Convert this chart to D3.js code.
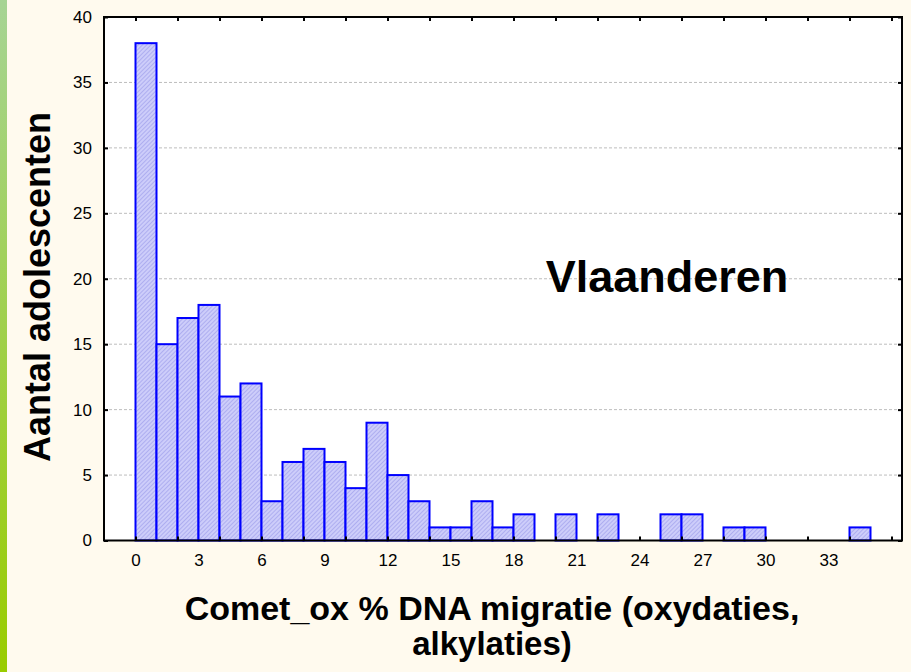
<!DOCTYPE html>
<html>
<head>
<meta charset="utf-8">
<script src="https://d3js.org/d3.v7.min.js"></script>
<style>
  html, body { margin: 0; padding: 0; background: #fffaee; }
  svg { display: block; }
  text { font-family: "Liberation Sans", Arial, sans-serif; }
</style>
</head>
<body>
<script>
// histogram of Comet_ox, one bin per unit
var binStart = [0,1,2,3,4,5,6,7,8,9,10,11,12,13,14,15,16,17,18,19,20,21,22,23,24,25,26,27,28,29,30,31,32,33,34,35];
var counts   = [38,15,17,18,11,12,3,6,7,6,4,9,5,3,1,1,3,1,2,0,2,0,2,0,0,2,2,0,1,1,0,0,0,0,1,0];
var xLabels  = [0,3,6,9,12,15,18,21,24,27,30,33];
var xTicks   = [0,2,4,6,8,10,12,14,16,18,20,22,24,26,28,30,32,34,36];
var yTicks   = [0,5,10,15,20,25,30,35,40];
var gridVals = [5,10,15,20,25,30,35];

var W = 911, H = 672;
var svg = d3.select("body").append("svg").attr("width", W).attr("height", H);

var defs = svg.append("defs");
var grad = defs.append("linearGradient").attr("id", "strip")
    .attr("x1", 0).attr("y1", 0).attr("x2", 0).attr("y2", 1);
grad.append("stop").attr("offset", "0%").attr("stop-color", "#a6d494");
grad.append("stop").attr("offset", "100%").attr("stop-color", "#99cc00");

var pat = defs.append("pattern").attr("id", "hatch")
    .attr("width", 3).attr("height", 3)
    .attr("patternUnits", "userSpaceOnUse")
    .attr("patternTransform", "rotate(45)");
pat.append("rect").attr("width", 3).attr("height", 3).attr("fill", "#cdcdfa");
pat.append("rect").attr("width", 1).attr("height", 3).attr("fill", "#aeaef0");

// background + green strip on the left
svg.append("rect").attr("width", W).attr("height", H).attr("fill", "#fffaee");
svg.append("rect").attr("width", 7).attr("height", H).attr("fill", "url(#strip)");

var x = d3.scaleLinear().domain([-1.5, 36.5]).range([104, 902]);
var y = d3.scaleLinear().domain([0, 40]).range([540.5, 17]);

// plot area
svg.append("rect")
    .attr("x", x(-1.5)).attr("y", y(40))
    .attr("width", x(36.5) - x(-1.5)).attr("height", y(0) - y(40))
    .attr("fill", "#fff");

// gridlines
svg.append("g").selectAll("line").data(gridVals).enter().append("line")
    .attr("x1", x(-1.5)).attr("x2", x(36.5))
    .attr("y1", function(d) { return y(d); }).attr("y2", function(d) { return y(d); })
    .attr("stroke", "#bdbdbd").attr("stroke-width", 1).attr("stroke-dasharray", "3,2");

// bars
svg.append("g").selectAll("rect").data(binStart).enter().append("rect")
    .filter(function(d, i) { return counts[i] > 0; })
    .attr("x", function(d) { return x(d); })
    .attr("width", function(d) { return x(d + 1) - x(d); })
    .attr("y", function(d) { return y(counts[binStart.indexOf(d)]); })
    .attr("height", function(d) { return y(0) - y(counts[binStart.indexOf(d)]); })
    .attr("fill", "url(#hatch)")
    .attr("stroke", "#0000ff").attr("stroke-width", 2);

// ticks (inward) on all four sides
function tickAxis(axis, tx, ty) {
  var g = svg.append("g").attr("transform", "translate(" + tx + "," + ty + ")").call(axis);
  g.select(".domain").remove();
  g.selectAll("line").attr("stroke", "#000").attr("stroke-width", 2);
  g.selectAll("text").remove();
  return g;
}
tickAxis(d3.axisTop(x).tickValues(xTicks).tickSize(-4), 0, y(40));
tickAxis(d3.axisBottom(x).tickValues(xTicks).tickSize(-4), 0, y(0));
tickAxis(d3.axisLeft(y).tickValues(yTicks).tickSize(-4), x(-1.5), 0);
tickAxis(d3.axisRight(y).tickValues(yTicks).tickSize(-4), x(36.5), 0);

// tick labels
var xl = svg.append("g").attr("transform", "translate(0," + y(0) + ")")
    .call(d3.axisBottom(x).tickValues(xLabels).tickSize(0).tickPadding(13));
xl.select(".domain").remove();
xl.selectAll("text").attr("font-size", 17).attr("fill", "#000")
    .attr("font-family", "Liberation Sans, Arial, sans-serif");

var yl = svg.append("g").attr("transform", "translate(" + x(-1.5) + ",0)")
    .call(d3.axisLeft(y).tickValues(yTicks).tickSize(0).tickPadding(12));
yl.select(".domain").remove();
yl.selectAll("text").attr("font-size", 17).attr("fill", "#000")
    .attr("font-family", "Liberation Sans, Arial, sans-serif");

// frame
svg.append("rect")
    .attr("x", x(-1.5)).attr("y", y(40))
    .attr("width", x(36.5) - x(-1.5)).attr("height", y(0) - y(40))
    .attr("fill", "none").attr("stroke", "#000").attr("stroke-width", 2);

// titles
svg.append("text")
    .attr("transform", "translate(50,287) rotate(-90)")
    .attr("text-anchor", "middle")
    .attr("font-size", 36).attr("font-weight", "bold")
    .text("Aantal adolescenten");

svg.append("text")
    .attr("x", 492).attr("y", 620)
    .attr("text-anchor", "middle")
    .attr("font-size", 34).attr("font-weight", "bold")
    .text("Comet_ox % DNA migratie (oxydaties,");
svg.append("text")
    .attr("x", 492).attr("y", 655)
    .attr("text-anchor", "middle")
    .attr("font-size", 33).attr("font-weight", "bold")
    .text("alkylaties)");

svg.append("text")
    .attr("x", 667).attr("y", 292)
    .attr("text-anchor", "middle")
    .attr("font-size", 45).attr("font-weight", "bold")
    .text("Vlaanderen");
</script>
</body>
</html>
